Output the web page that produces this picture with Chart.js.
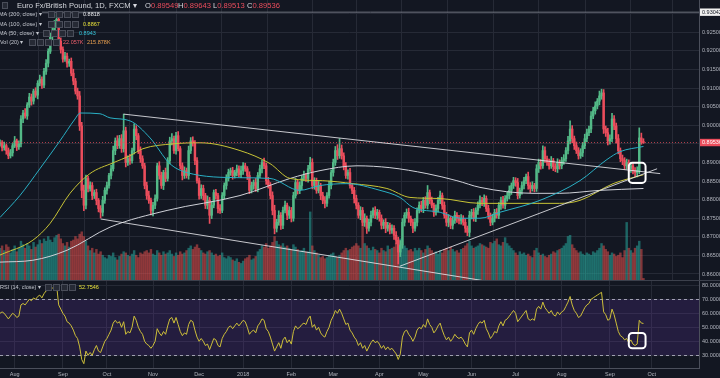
<!DOCTYPE html>
<html><head><meta charset="utf-8">
<script src="https://cdn.jsdelivr.net/npm/chart.js@4"></script>
<style>
html,body{margin:0;padding:0;background:#131722;width:720px;height:378px;overflow:hidden;font-family:"Liberation Sans",Arial,sans-serif;}
#wrap{position:relative;width:720px;height:378px;}
canvas{position:absolute;left:0;}
#c1{top:0;} #c2{top:281px;}
.t{position:absolute;white-space:nowrap;color:#c3c6ce;font-size:5.5px;line-height:7px;}
.b{position:absolute;width:5px;height:5px;border:1px solid #4a4e5a;background:#262a35;}
.title{font-size:7.6px;line-height:9px;color:#d6d8de;}
.w{color:#d6d8de;} .r{color:#eb4d5c;}
</style></head>
<body><div id="wrap">
<canvas id="c1" width="720" height="281"></canvas>
<canvas id="c2" width="720" height="97"></canvas>

<div class="b" style="left:2px;top:2px;width:4px;height:5px;"></div>
<div class="t title" style="left:17px;top:1px;">Euro Fx/British Pound, 1D, FXCM ▾</div>
<div class="t title" style="left:145px;top:1px;"><span class="w">O</span><span class="r">0.89549</span></div>
<div class="t title" style="left:178px;top:1px;"><span class="w">H</span><span class="r">0.89643</span></div>
<div class="t title" style="left:213px;top:1px;"><span class="w">L</span><span class="r">0.89513</span></div>
<div class="t title" style="left:247px;top:1px;"><span class="w">C</span><span class="r">0.89536</span></div>

<div class="t" style="left:-1px;top:11px;">MA (200, close) ▾</div>
<div class="b" style="left:48px;top:11px;"></div><div class="b" style="left:56px;top:11px;"></div><div class="b" style="left:64px;top:11px;"></div><div class="b" style="left:72px;top:11px;"></div>
<div class="t" style="left:83px;top:11px;color:#e8e9ec;">0.8818</div>

<div class="t" style="left:-1px;top:21px;">MA (100, close) ▾</div>
<div class="b" style="left:48px;top:21px;"></div><div class="b" style="left:56px;top:21px;"></div><div class="b" style="left:64px;top:21px;"></div><div class="b" style="left:72px;top:21px;"></div>
<div class="t" style="left:83px;top:21px;color:#e6e03a;">0.8867</div>

<div class="t" style="left:-1px;top:30px;">MA (50, close) ▾</div>
<div class="b" style="left:43px;top:30px;"></div><div class="b" style="left:51px;top:30px;"></div><div class="b" style="left:59px;top:30px;"></div><div class="b" style="left:67px;top:30px;"></div>
<div class="t" style="left:79px;top:30px;color:#36c6dc;">0.8943</div>

<div class="t" style="left:0px;top:39px;">Vol (20) ▾</div>
<div class="b" style="left:29px;top:39px;"></div><div class="b" style="left:37px;top:39px;"></div><div class="b" style="left:45px;top:39px;"></div><div class="b" style="left:53px;top:39px;"></div>
<div class="t" style="left:63px;top:39px;color:#ec5f6b;">22.057K</div>
<div class="t" style="left:87px;top:39px;color:#eba150;">215.878K</div>

<div class="t" style="left:0px;top:284px;">RSI (14, close) ▾</div>
<div class="b" style="left:45px;top:284px;"></div><div class="b" style="left:53px;top:284px;"></div><div class="b" style="left:61px;top:284px;"></div><div class="b" style="left:69px;top:284px;"></div>
<div class="t" style="left:79px;top:284px;color:#e6e03a;">52.7546</div>
</div>
<script>
// ---------- data ----------
const monthIdx = [7,30,51,73,95,116,139,159,181,202,225,246,268,291,311];
const monthLabels = ['Aug','Sep','Oct','Nov','Dec','2018','Feb','Mar','Apr','May','Jun','Jul','Aug','Sep','Oct'];

// daily closes in pips (0.8953 -> 8953)
const closes = [
8953,8940,8945,8932,8918,8926,8945,8958,8942,8950,
9017,9033,9025,9055,9076,9065,9092,9081,9113,9124,
9108,9145,9167,9199,9239,9252,9274,9285,9226,9204,
9178,9186,9167,9172,9140,9119,9092,9079,8998,8825,
8785,8857,8830,8838,8811,8819,8798,8776,8766,8798,
8825,8838,8865,8883,8932,8958,8945,8964,8937,8985,
8900,8910,8905,8932,8990,8972,8932,8910,8891,8838,
8811,8798,8771,8785,8803,8891,8865,8838,8873,8857,
8905,8958,8964,8932,8972,8937,8891,8865,8878,8865,
8932,8958,8953,8905,8851,8811,8830,8811,8785,8798,
8758,8785,8819,8811,8776,8771,8811,8838,8857,8873,
8878,8865,8873,8883,8867,8878,8891,8883,8865,8825,
8838,8846,8830,8865,8883,8900,8891,8851,8838,8811,
8771,8723,8739,8758,8731,8771,8785,8758,8771,8750,
8811,8846,8825,8838,8857,8865,8857,8883,8900,8838,
8851,8825,8838,8811,8798,8790,8811,8838,8873,8900,
8932,8918,8937,8918,8891,8865,8873,8838,8825,8803,
8785,8758,8771,8739,8750,8723,8739,8758,8771,8758,
8766,8750,8731,8739,8723,8731,8718,8723,8704,8691,
8659,8678,8739,8758,8766,8750,8739,8723,8739,8771,
8785,8776,8798,8785,8819,8798,8785,8766,8776,8798,
8811,8785,8758,8739,8750,8731,8744,8758,8750,8744,
8750,8739,8723,8712,8758,8766,8750,8771,8785,8798,
8793,8803,8776,8758,8739,8750,8766,8758,8785,8798,
8785,8803,8811,8825,8838,8851,8846,8811,8825,8838,
8851,8862,8838,8830,8838,8830,8883,8900,8891,8932,
8910,8900,8891,8905,8889,8883,8900,8891,8905,8910,
8932,8958,8990,8964,8945,8932,8918,8926,8945,8964,
8980,8990,9025,9039,9052,9065,9079,9087,8990,8980,
8958,8964,9017,8998,8964,8932,8910,8905,8891,8900,
8883,8891,8878,8873,8878,8966,8954.9,8953.6];
const firstOpen = 8950;
// wick lengths in pips above / below the body
const upperWick = [
8,6,10,5,7,9,6,12,5,8, 9,7,12,6,10,8,5,9,7,11, 6,8,10,7,9,12,8,13,15,9, 7,10,8,6,9,11,7,8,12,10,
14,9,6,10,8,7,9,5,8,11, 7,9,6,10,12,8,14,9,11,45, 10,8,12,7,14,9,6,10,8,7, 9,12,6,8,10,7,11,9,6,12,
8,10,14,7,9,11,6,8,10,7, 12,9,11,6,8,7,10,9,6,12, 8,10,7,9,6,11,8,7,10,9, 7,9,6,10,8,12,9,7,6,10,
9,7,11,8,10,6,12,7,9,8, 10,14,8,12,7,9,11,6,10,8, 9,11,7,10,8,12,6,9,14,10, 8,7,11,6,9,10,8,12,7,9,
11,16,27,10,8,9,7,11,6,8, 9,7,10,8,12,6,9,11,7,10, 8,6,9,7,10,8,6,9,7,10, 8,12,10,7,9,11,6,8,10,7,
9,11,8,10,19,7,9,6,10,8, 12,7,9,8,10,6,9,11,7,8, 10,7,9,6,11,8,10,7,9,12, 8,10,7,9,6,11,8,10,7,9,
11,8,10,12,7,9,8,11,6,10, 9,7,12,8,10,6,11,9,8,13, 10,7,9,11,6,8,10,7,9,11, 8,12,22,9,7,10,8,11,9,12,
10,8,12,9,11,7,13,10,9,8, 12,10,15,9,8,11,7,10,8,9, 7,9,6,8,10,27,13,9];
const lowerWick = [
6,9,7,10,8,6,9,5,10,7, 8,10,6,9,7,11,8,6,10,7, 9,7,8,10,6,9,7,8,12,10, 8,6,11,9,7,10,8,9,12,20,
15,10,9,7,11,8,12,9,15,10, 8,10,7,9,6,11,8,7,10,9, 12,8,10,7,9,11,8,10,7,9, 10,8,12,15,9,7,10,8,11,9,
7,9,11,8,10,6,9,12,8,7, 10,8,9,11,7,10,8,12,9,10, 22,9,7,10,12,8,6,9,10,7, 8,10,7,9,6,8,10,7,11,9,
7,10,8,9,6,11,8,10,7,9, 12,15,10,8,11,9,7,12,9,10, 8,7,10,9,11,6,8,10,7,9, 10,8,7,11,9,12,8,7,9,10,
8,10,7,9,11,8,10,7,9,12, 10,8,12,9,11,14,8,10,7,9, 11,8,10,9,12,8,10,9,11,10, 32,12,9,10,8,11,9,12,8,10,
7,9,11,8,10,9,7,11,8,10, 9,11,8,10,12,9,10,8,11,9, 10,8,11,9,12,10,8,9,11,7, 9,11,8,10,9,7,10,8,9,11,
8,10,7,9,11,8,10,9,7,10, 9,8,10,11,7,9,8,10,9,7, 10,8,9,7,11,8,10,9,8,10, 7,9,8,11,10,8,9,7,10,8,
9,8,10,7,9,8,10,9,12,10, 11,9,8,10,12,9,8,11,10,9, 8,10,9,11,12,8,6,2.3];
// volume in thousands
const volumes = [
280,300,260,310,290,240,270,300,250,280, 340,310,280,320,300,270,330,290,310,350,
320,360,340,380,350,330,370,390,400,360, 320,300,330,290,340,350,380,360,400,420,
380,340,300,260,280,240,270,230,250,220, 200,190,220,210,240,200,180,210,230,250,
240,220,210,230,260,220,200,240,230,250, 260,240,270,230,220,260,240,220,250,230,
240,260,230,210,240,220,250,230,240,260, 280,300,270,290,310,280,260,240,230,250,
260,240,220,230,210,220,240,200,190,210, 200,180,170,190,160,150,170,190,200,220,
180,190,210,250,270,300,290,320,280,300, 330,380,340,310,300,320,290,300,280,270,
310,290,270,250,260,280,250,250,590,300, 260,240,220,200,210,190,200,220,230,240,
210,200,220,240,260,280,260,270,290,300, 320,300,280,600,320,300,280,260,290,270,
260,240,280,260,250,300,270,280,290,320, 340,360,310,300,280,260,270,250,280,260,
280,260,240,270,300,280,260,240,250,230, 260,240,270,280,260,290,270,250,260,240,
270,280,300,320,340,300,280,290,300,320, 310,300,290,280,330,320,340,360,310,300,
330,370,320,300,280,260,240,220,250,230, 240,220,230,210,200,260,280,240,220,230,
210,200,220,230,250,240,260,270,280,300, 320,380,390,310,280,260,240,250,230,220,
240,230,220,250,240,260,280,320,300,270, 250,220,240,230,210,220,240,200,260,500,
280,260,240,280,300,340,270,22.057];
// RSI (14)
const rsi = [
60,61,60,58,56,58,60,59,57,58, 66,67,66,68,70,69,71,70,72,73, 71,74,76,77,78,78,79,80,66,63,
60,58,54,53,51,48,44,42,36,27, 24,33,30,32,30,34,37,33,32,36, 40,42,45,48,53,55,53,54,50,54,
45,47,46,50,58,55,50,47,45,40, 38,37,35,37,40,49,46,44,47,45, 51,56,57,53,57,52,47,44,46,45,
52,55,54,48,43,40,42,40,37,38, 34,38,42,41,37,36,42,45,47,50, 51,49,51,53,51,53,55,54,50,45,
47,48,46,51,53,56,55,49,47,43, 38,33,36,39,35,41,43,39,41,38, 47,51,49,50,52,53,52,56,58,50,
52,48,50,46,44,43,47,50,55,58, 62,60,63,60,56,52,53,48,46,43, 41,37,39,35,37,33,36,39,41,39,
40,38,35,37,34,36,34,35,33,31, 27,31,43,47,48,45,43,40,43,48, 50,49,52,50,56,52,50,46,48,51,
53,48,44,41,43,40,42,45,43,42, 43,41,38,36,46,48,45,49,52,54, 53,55,49,46,42,44,47,46,51,54,
51,55,56,58,60,62,60,54,56,58, 60,62,56,55,56,55,63,65,63,68, 64,62,60,62,59,58,61,59,61,62,
65,68,72,66,62,60,57,58,61,64, 66,67,70,71,72,73,74,75,61,59, 55,56,63,59,53,47,44,43,41,42,
39,41,38,37,38,55,53,52.7546];
// moving averages: [bar index, pips]
const ma50 = [[0,8752],[9.5,8811],[19,8883],[28.6,8958],[35.8,9017],[38.2,9033],[47.7,9031],[52.5,9020],[62,9012],[71.6,8966],[81,8897],[89,8873],[114.5,8859],[128.8,8857],[143,8825],[152.7,8838],[165.5,8843],[181.3,8825],[190.8,8806],[197,8779],[210,8766],[219.5,8750],[229,8750],[238.5,8766],[257.6,8798],[276.7,8851],[289.6,8908],[295.8,8929],[307,8943]];
const ma100 = [[0,8651],[15.7,8691],[23.9,8736],[33.4,8817],[42.9,8870],[53.9,8899],[62,8918],[68.2,8937],[82.5,8950],[95.4,8953],[114.5,8932],[128.8,8897],[138.4,8857],[154,8851],[168.4,8843],[184.6,8830],[195.6,8806],[210,8803],[229,8790],[267,8790],[276.7,8798],[292.5,8843],[307,8867]];
const ma200 = [[0,8632],[15.7,8637],[32,8664],[52.5,8726],[79.7,8771],[114.5,8811],[138.4,8857],[152.7,8878],[170.3,8891],[186,8886],[203.7,8870],[218,8851],[229,8833],[254.3,8817],[267,8817],[286.3,8825],[307,8830]];
// drawn trend lines: [bar index, pips]
const trendUpper = [[59,9030],[315,8870]];
const trendLower = [[48,8748],[234,8579]];
const trendRise = [[190.8,8621],[313.5,8883]];
const highLevel = 0.93042;
const priceBox = [300,308,0.8899,0.8845];
const rsiBox = [300,308,46,35];

// ---------- build ----------
const FONT = "'Liberation Sans', Arial, sans-serif";
const UP='#53b987', DN='#eb4d5c', GRID='#262a36', AXIS='#4b4f5b', TXT='#b2b5be';
const P = v => v/10000;
const opens = closes.map((c,i)=> i ? closes[i-1] : firstOpen);
const up = closes.map((c,i)=> c >= opens[i]);
const bodies = closes.map((c,i)=>({x:i, y:[P(opens[i]), P(c)]}));
const wicks = closes.map((c,i)=>({x:i, y:[P(Math.min(opens[i],c)-lowerWick[i]), P(Math.max(opens[i],c)+upperWick[i])]}));
const candleCol = up.map(u=> u?UP:DN);
const volCol = up.map(u=> u?'rgba(38,166,154,0.55)':'rgba(239,83,80,0.5)');
const vols = volumes.map((v,i)=>({x:i,y:v}));
const pts = arr => arr.map(a=>({x:a[0], y:P(a[1])}));
const lastClose = P(closes[closes.length-1]);
const XMAX = 333.5;

function rr(ctx,x,y,w,h,r){ctx.beginPath();ctx.moveTo(x+r,y);ctx.arcTo(x+w,y,x+w,y+h,r);ctx.arcTo(x+w,y+h,x,y+h,r);ctx.arcTo(x,y+h,x,y,r);ctx.arcTo(x,y,x+w,y,r);ctx.closePath();}
function boxPlugin(box, yId){return {id:'hbox', afterDatasetsDraw(chart){
  const xs=chart.scales.x, ys=chart.scales[yId], ctx=chart.ctx;
  const x0=xs.getPixelForValue(box[0]), x1=xs.getPixelForValue(box[1]);
  const y0=ys.getPixelForValue(box[2]), y1=ys.getPixelForValue(box[3]);
  ctx.save(); ctx.strokeStyle='#ffffff'; ctx.lineWidth=2; rr(ctx,x0,y0,x1-x0,y1-y0,3.5); ctx.stroke(); ctx.restore();
}};}

const xTicksHook = s => { s.ticks = monthIdx.map(v=>({value:v})); };
const lineDs = (data,color,order,extra) => Object.assign({type:'line', data, borderColor:color, borderWidth:1, pointRadius:0, order, cubicInterpolationMode:'monotone'}, extra||{});

new Chart(document.getElementById('c1'), {
  type:'bar',
  data:{datasets:[
    lineDs(pts(trendUpper),'rgba(230,230,235,0.85)',0),
    lineDs(pts(trendLower),'rgba(230,230,235,0.85)',0),
    lineDs(pts(trendRise),'rgba(230,230,235,0.85)',0),
    lineDs([{x:20,y:highLevel},{x:XMAX,y:highLevel}],'#6f737e',0),
    lineDs([{x:0,y:lastClose},{x:XMAX,y:lastClose}],'rgba(235,77,92,0.75)',1,{borderDash:[1,2]}),
    lineDs(pts(ma50),'#2ab0c5',1),
    lineDs(pts(ma100),'#c8c436',2),
    lineDs(pts(ma200),'#cfd1d8',3),
    {type:'bar', data:bodies, backgroundColor:candleCol, barThickness:1.8, grouped:false, minBarLength:1, order:4},
    {type:'bar', data:wicks, backgroundColor:candleCol, barThickness:1, grouped:false, order:5},
    {type:'bar', data:vols, yAxisID:'v', backgroundColor:volCol, barThickness:1.8, grouped:false, order:6}
  ]},
  options:{
    responsive:false, animation:false, devicePixelRatio:1,
    layout:{padding:0},
    plugins:{legend:{display:false}, tooltip:{enabled:false}},
    scales:{
      x:{type:'linear', min:0, max:XMAX, offset:false,
         grid:{color:GRID, drawTicks:false}, border:{display:false}, ticks:{display:false},
         afterBuildTicks:xTicksHook,
         afterFit:s=>{s.height=0; s.paddingLeft=0; s.paddingRight=0;}},
      y:{position:'right', min:0.858117, max:0.933696,
         grid:{color:GRID, drawTicks:false}, border:{color:AXIS},
         ticks:{stepSize:0.005, includeBounds:false, color:TXT, font:{size:5.5, family:FONT}, padding:3, crossAlign:'near', callback:v=>v.toFixed(5)},
         afterFit:s=>{s.width=21; s.paddingTop=0; s.paddingBottom=0;}},
      v:{display:false, min:0, max:2400}
    }
  },
  plugins:[boxPlugin(priceBox,'y'), {id:'tags', afterDraw(chart){
    const ctx=chart.ctx, ys=chart.scales.y, ca=chart.chartArea;
    ctx.save();
    ctx.strokeStyle='#3c404c'; ctx.lineWidth=1; ctx.beginPath(); ctx.moveTo(0,ca.bottom-0.5); ctx.lineTo(chart.width,ca.bottom-0.5); ctx.stroke();
    const tag=(val,bg,fg)=>{const py=ys.getPixelForValue(val);
      ctx.fillStyle=bg; ctx.fillRect(ca.right+1, py-3.7, chart.width-ca.right, 7.4);
      ctx.fillStyle=fg; ctx.font='5.5px '+FONT; ctx.textBaseline='middle'; ctx.textAlign='left';
      ctx.fillText(val.toFixed(5), ca.right+3, py+0.3);};
    tag(highLevel,'#f0f0f0','#131722');
    tag(lastClose,'#eb4d5c','#ffffff');
    ctx.restore();
  }}]
});

new Chart(document.getElementById('c2'), {
  type:'line',
  data:{datasets:[{data:rsi.map((v,i)=>({x:i,y:v})), borderColor:'#cdbf3a', borderWidth:1, pointRadius:0}]},
  options:{
    responsive:false, animation:false, devicePixelRatio:1,
    layout:{padding:0},
    plugins:{legend:{display:false}, tooltip:{enabled:false}},
    scales:{
      x:{type:'linear', min:0, max:XMAX, offset:false,
         grid:{color:GRID, drawTicks:false}, border:{color:AXIS},
         ticks:{color:TXT, font:{size:5.5, family:FONT}, padding:3, autoSkip:false, maxRotation:0, callback:(v,i)=>monthLabels[i]},
         afterBuildTicks:xTicksHook,
         afterFit:s=>{s.height=10; s.paddingLeft=0; s.paddingRight=0;}},
      y:{position:'right', min:20.93, max:83.07,
         grid:{color:GRID, drawTicks:false}, border:{color:AXIS},
         ticks:{color:TXT, font:{size:5.5, family:FONT}, padding:3, crossAlign:'near', callback:v=>v.toFixed(4)},
         afterBuildTicks:s=>{s.ticks=[30,40,50,60,70,80].map(v=>({value:v}));},
         afterFit:s=>{s.width=21; s.paddingTop=0; s.paddingBottom=0;}}
    }
  },
  plugins:[{id:'band', beforeDatasetsDraw(chart){
    const ctx=chart.ctx, ys=chart.scales.y, ca=chart.chartArea;
    const y70=ys.getPixelForValue(70), y30=ys.getPixelForValue(30);
    ctx.save();
    ctx.fillStyle='rgba(126,60,210,0.17)'; ctx.fillRect(ca.left,y70,ca.right-ca.left,y30-y70);
    ctx.strokeStyle='rgba(200,200,215,0.75)'; ctx.setLineDash([3,3]); ctx.lineWidth=1;
    [y70,y30].forEach(y=>{ctx.beginPath(); ctx.moveTo(ca.left,Math.round(y)+0.5); ctx.lineTo(ca.right,Math.round(y)+0.5); ctx.stroke();});
    ctx.restore();
  }}, boxPlugin(rsiBox,'y')]
});
</script>
</body></html>
